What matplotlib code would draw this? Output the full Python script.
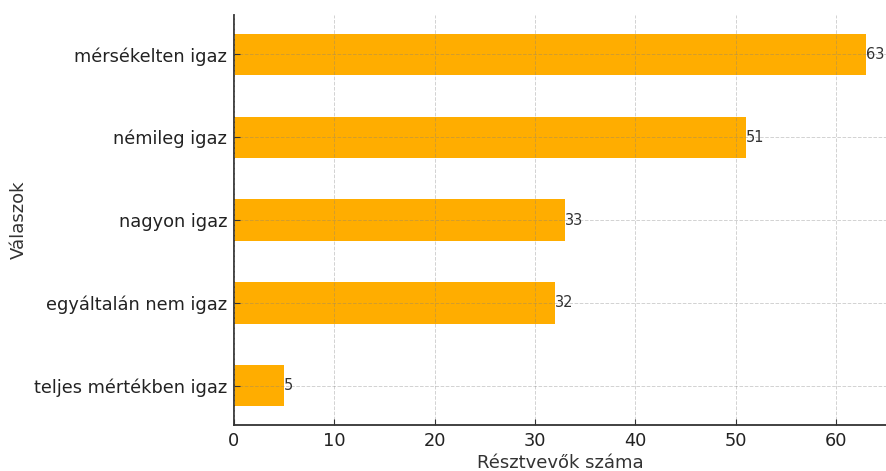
import matplotlib
matplotlib.use("Agg")
import matplotlib.pyplot as plt

categories = ["teljes mértékben igaz", "egyáltalán nem igaz", "nagyon igaz", "némileg igaz", "mérsékelten igaz"]
values = [5, 32, 33, 51, 63]

plt.rcParams['font.family'] = ['DejaVu Sans']
fig = plt.figure(figsize=(8.87, 4.71), dpi=100)
ax = fig.add_axes([0.2638, 0.0977, 0.7352, 0.8703])

bars = ax.barh(categories, values, height=0.5, color='#FFAD00', zorder=2)
for b, v in zip(bars, values):
    ax.text(b.get_width(), b.get_y() + b.get_height() / 2, str(v),
            va='center', ha='left', fontsize=10.5, color='#333333', zorder=4)

ax.set_xlim(0, 65)
ax.set_axisbelow(False)
ax.grid(True, linestyle='--', color='gray', alpha=0.35, linewidth=0.7)
for s in ['top', 'right']:
    ax.spines[s].set_visible(False)
for s in ['left', 'bottom']:
    ax.spines[s].set_color('#333333')
    ax.spines[s].set_linewidth(1.3)
ax.tick_params(axis='both', labelsize=12.8, colors='#333333', labelcolor='#222222',
               direction='in', length=4, pad=5)
ax.set_xlabel('Résztvevők száma', fontsize=13, color='#333333')
ax.set_ylabel('Válaszok', fontsize=13, color='#333333')
ax.xaxis.set_label_coords(0.5, -0.070)
ax.yaxis.set_label_coords(-0.316, 0.5)
fig.savefig('out.png', dpi=100)
